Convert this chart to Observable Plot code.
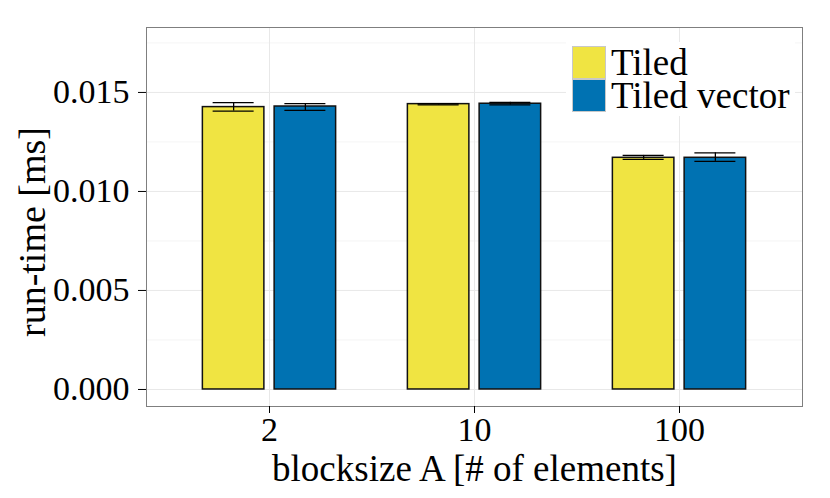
<!DOCTYPE html>
<html>
<head>
<meta charset="utf-8">
<script src="https://cdn.jsdelivr.net/npm/d3@7"></script>
<script src="https://cdn.jsdelivr.net/npm/@observablehq/plot@0.6"></script>
<style>
  html, body { margin: 0; padding: 0; background: #fff; }
  #wrap { position: relative; width: 830px; height: 498px; font-family: "Liberation Serif", serif; }
  #legend { position: absolute; left: 566px; top: 42px; background: #fff; padding: 4px 6px; }
  .row { display: flex; align-items: center; height: 33px; }
  .key { width: 34px; height: 33px; border: 0.5px solid #c8c8c8; box-sizing: border-box; margin-right: 5px; flex: none; }
  .lab { display: block; font-size: 37px; line-height: 33px; height: 33px; color: #000; white-space: nowrap; }
</style>
</head>
<body>
<div id="wrap"></div>
<script>
const categories = ["2", "10", "100"];
const seriesNames = ["Tiled", "Tiled vector"];
const colors = ["#F0E442", "#0072B2"];

const tiledMean = [0.01426, 0.01441, 0.01170];
const tiledLow  = [0.01406, 0.01437, 0.01162];
const tiledHigh = [0.01449, 0.01444, 0.01182];

const vectorMean = [0.01429, 0.01443, 0.01170];
const vectorLow  = [0.01409, 0.01437, 0.01152];
const vectorHigh = [0.01444, 0.01450, 0.01195];

const yTicks = [0, 0.005, 0.010, 0.015];
const yMinorTicks = [0.0025, 0.0075, 0.0125, 0.0175];
const xTitle = "blocksize A [# of elements]";
const yTitle = "run-time [ms]";

const dodge = 0.175, barHalf = 0.15, errHalf = 0.1;
const rows = [];
categories.forEach((c, i) => {
  [[tiledMean, tiledLow, tiledHigh], [vectorMean, vectorLow, vectorHigh]].forEach((arr, s) => {
    const center = i + 1 + (s === 0 ? -dodge : dodge);
    rows.push({cat: c, series: seriesNames[s], value: arr[0][i], lo: arr[1][i], hi: arr[2][i],
      x1: center - barHalf, x2: center + barHalf, e1: center - errHalf, e2: center + errHalf, xc: center});
  });
});

const font = "Liberation Serif, serif";
const plot = Plot.plot({
  width: 830, height: 498,
  marginLeft: 146, marginRight: 28, marginTop: 27, marginBottom: 92,
  style: {fontFamily: font, fontSize: "34px", background: "#fff", color: "#000"},
  x: {type: "linear", domain: [0.4, 3.6]},
  y: {domain: [-0.00086, 0.01828]},
  color: {domain: seriesNames, range: colors},
  marks: [
    Plot.gridY(yMinorTicks, {stroke: "#f5f5f5", strokeOpacity: 1, strokeWidth: 1}),
    Plot.gridY(yTicks, {stroke: "#e8e8e8", strokeOpacity: 1, strokeWidth: 1}),
    Plot.gridX([1, 2, 3], {stroke: "#e8e8e8", strokeOpacity: 1, strokeWidth: 1}),
    Plot.rectY(rows, {x1: "x1", x2: "x2", y1: 0, y2: "value", fill: "series", stroke: "#111", strokeWidth: 1.5}),
    Plot.ruleX(rows, {x: "xc", y1: "lo", y2: "hi", stroke: "#000", strokeWidth: 1.3}),
    Plot.ruleY(rows, {y: "lo", x1: "e1", x2: "e2", stroke: "#000", strokeWidth: 1.3}),
    Plot.ruleY(rows, {y: "hi", x1: "e1", x2: "e2", stroke: "#000", strokeWidth: 1.3}),
    Plot.frame({stroke: "#7f7f7f", strokeWidth: 1}),
    Plot.axisY(yTicks, {tickSize: 8, tickPadding: 9, tickFormat: d3.format(".3f"), label: null, fontSize: 34}),
    Plot.axisX([1, 2, 3], {tickSize: 7, tickPadding: 3, tickFormat: d => categories[d - 1], label: null, fontSize: 34}),
    Plot.text([yTitle], {text: d => d, frameAnchor: "left", textAnchor: "middle", rotate: -90, dx: -114, dy: 15, fontSize: 38, lineAnchor: "middle"}),
    Plot.text([xTitle], {text: d => d, frameAnchor: "bottom", dy: 63, fontSize: 37, lineAnchor: "middle"})
  ]
});

const wrap = document.getElementById("wrap");
wrap.appendChild(plot);
const legend = document.createElement("div");
legend.id = "legend";
seriesNames.forEach((name, s) => {
  const row = document.createElement("div");
  row.className = "row";
  const key = document.createElement("div");
  key.className = "key";
  key.style.background = colors[s];
  const lab = document.createElement("span");
  lab.className = "lab";
  lab.textContent = name;
  row.appendChild(key); row.appendChild(lab);
  legend.appendChild(row);
});
wrap.appendChild(legend);
</script>
</body>
</html>
